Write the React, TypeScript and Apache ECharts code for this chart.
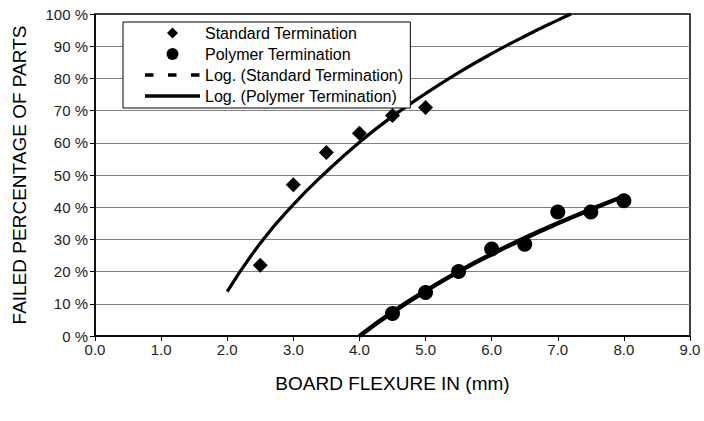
import React, { useEffect, useRef } from "react";
import * as echarts from "echarts";

const xTicks = [0, 1, 2, 3, 4, 5, 6, 7, 8, 9];
const standardX = [2.5, 3.0, 3.5, 4.0, 4.5, 5.0];
const standardY = [22, 47, 57, 63, 68.5, 71];
const polymerX = [4.5, 5.0, 5.5, 6.0, 6.5, 7.0, 7.5, 8.0];
const polymerY = [7, 13.5, 20, 27, 28.5, 38.5, 38.5, 42];
// trend curves
const standardTrendX = [2.0, 2.5, 3.0, 3.5, 4.0, 4.5, 5.0, 5.5, 6.0, 6.5, 7.0, 7.2];
const standardTrendY = [13.8, 28.8, 40.8, 51, 60.2, 68.2, 75.3, 81.8, 87.7, 93.1, 98.1, 100];
const polymerTrendX = [4.0, 4.5, 5.0, 5.5, 6.0, 6.5, 7.0, 7.5, 8.0];
const polymerTrendY = [0, 7.4, 14, 20, 25.4, 30.4, 35, 39.3, 43.4];

const names = [
  "Standard Termination",
  "Polymer Termination",
  "Log. (Standard Termination)",
  "Log. (Polymer Termination)",
];

const zip = (xs: number[], ys: number[]) => xs.map((x, i) => [x, ys[i]]);

const FONT = "'Liberation Sans', Arial, Helvetica, sans-serif";

// legend icons: invisible moveTo corners keep the icon box at 55x12
const ICON_DIAMOND = "path://M0,0M55,12M27.5,0.5L33,6L27.5,11.5L22,6Z";
const ICON_CIRCLE =
  "path://M0,0M55,12M33.5,6A6,6,0,1,1,21.5,6A6,6,0,1,1,33.5,6Z";
const ICON_DASH =
  "path://M0,0M55,12M0,4.3h8.5v3.4h-8.5zM23,4.3h8.5v3.4h-8.5zM46,4.3h8.5v3.4h-8.5z";
const ICON_SOLID = "path://M0,0M55,12M0,4.3h55v3.4h-55z";

export default function App() {
  const ref = useRef<HTMLDivElement>(null);
  useEffect(() => {
    if (!ref.current) return;
    const chart = echarts.init(ref.current, undefined, { renderer: "svg" });
    chart.setOption({
      animation: false,
      backgroundColor: "#fff",
      textStyle: { fontFamily: FONT },
      grid: {
        left: 95,
        right: 14,
        top: 14,
        bottom: 85,
        show: true,
        borderColor: "#000",
        borderWidth: 1.5,
        backgroundColor: "transparent",
      },
      legend: {
        orient: "vertical",
        left: 123,
        top: 22,
        padding: [3, 7, 4, 22],
        itemGap: 5,
        itemWidth: 55,
        itemHeight: 12,
        symbolKeepAspect: true,
        backgroundColor: "#fff",
        borderColor: "#000",
        borderWidth: 1,
        borderRadius: 0,
        textStyle: { fontSize: 16, color: "#000", fontFamily: FONT },
        data: [
          { name: names[0], icon: ICON_DIAMOND, itemStyle: { color: "#000" } },
          { name: names[1], icon: ICON_CIRCLE, itemStyle: { color: "#000" } },
          { name: names[2], icon: ICON_DASH, itemStyle: { color: "#000" } },
          { name: names[3], icon: ICON_SOLID, itemStyle: { color: "#000" } },
        ],
      },
      xAxis: {
        type: "value",
        min: 0,
        max: 9,
        interval: 1,
        name: "BOARD FLEXURE IN (mm)",
        nameLocation: "middle",
        nameGap: 38,
        nameTextStyle: { fontSize: 19, color: "#000", fontFamily: FONT },
        axisLine: { show: true, lineStyle: { color: "#000", width: 1.5 } },
        axisTick: { show: true, length: 5, lineStyle: { color: "#000" } },
        axisLabel: {
          fontSize: 15,
          color: "#222",
          margin: 6,
          formatter: (v: number) => (xTicks.includes(v) ? v.toFixed(1) : ""),
        },
        splitLine: { show: false },
      },
      yAxis: {
        type: "value",
        min: 0,
        max: 100,
        interval: 10,
        name: "FAILED PERCENTAGE OF PARTS",
        nameLocation: "middle",
        nameGap: 66,
        nameTextStyle: { fontSize: 19, color: "#000", fontFamily: FONT },
        axisLine: { show: true, lineStyle: { color: "#000", width: 1.5 } },
        axisTick: { show: true, length: 5, lineStyle: { color: "#000" } },
        axisLabel: {
          fontSize: 15,
          color: "#222",
          margin: 7,
          formatter: "{value} %",
        },
        splitLine: {
          show: true,
          showMinLine: false,
          showMaxLine: false,
          lineStyle: { color: "#808080", width: 1 },
        },
      },
      series: [
        {
          name: names[2],
          type: "line",
          data: zip(standardTrendX, standardTrendY),
          smooth: true,
          symbol: "none",
          lineStyle: { color: "#000", width: 3.2 },
          itemStyle: { color: "#000" },
          z: 2,
        },
        {
          name: names[3],
          type: "line",
          data: zip(polymerTrendX, polymerTrendY),
          smooth: true,
          symbol: "none",
          lineStyle: { color: "#000", width: 4.5 },
          itemStyle: { color: "#000" },
          z: 2,
        },
        {
          name: names[0],
          type: "scatter",
          data: zip(standardX, standardY),
          symbol: "diamond",
          symbolSize: 15,
          itemStyle: { color: "#000", opacity: 1 },
          z: 3,
        },
        {
          name: names[1],
          type: "scatter",
          data: zip(polymerX, polymerY),
          symbol: "circle",
          symbolSize: 15,
          itemStyle: { color: "#000", opacity: 1 },
          z: 3,
        },
      ],
    });
    return () => chart.dispose();
  }, []);
  return <div ref={ref} style={{ width: 704, height: 421, position: "absolute", left: 0, top: 0 }} />;
}
